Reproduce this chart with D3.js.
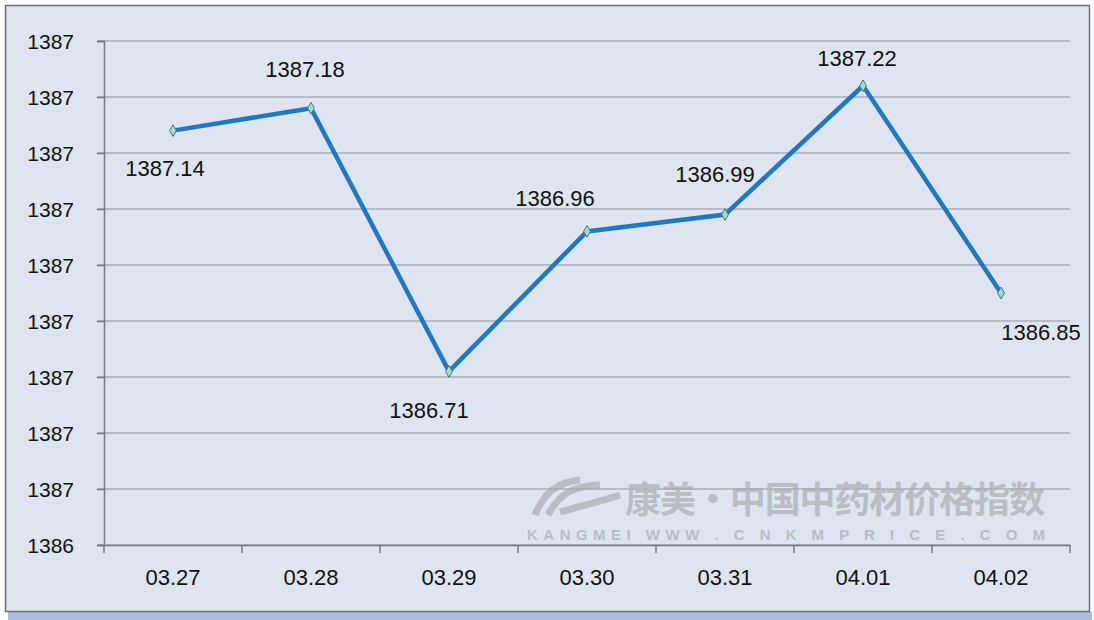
<!DOCTYPE html>
<html><head><meta charset="utf-8">
<script src="https://cdn.jsdelivr.net/npm/d3@7"></script>
<style>body{margin:0;background:#fff;}svg{display:block;font-family:"Liberation Sans",Arial,sans-serif;}</style>
</head><body>
<svg id="c" width="1094" height="620"></svg>
<script>
const categories = ["03.27","03.28","03.29","03.30","03.31","04.01","04.02"];
const values = [1387.14,1387.18,1386.71,1386.96,1386.99,1387.22,1386.85];
const yTicks = [1386.4,1386.5,1386.6,1386.7,1386.8,1386.9,1387.0,1387.1,1387.2,1387.3];
const labelOffsets = [[-8,38],[-6,-39],[-20,39],[-32,-33],[-10,-40],[-6,-28],[40,39]];

const svg = d3.select("#c");
svg.append("rect").attr("x",8).attr("y",612).attr("width",1084).attr("height",8).attr("fill","#a9bfdc");
svg.append("rect").attr("x",5.5).attr("y",5.5).attr("width",1084).attr("height",606).attr("fill","#dee5f1").attr("stroke","#6b6f78").attr("stroke-width",1.5);

const x = d3.scaleBand().domain(categories).range([104,1070]);
const y = d3.scaleLinear().domain([1386.4,1387.3]).range([545,41]);

// watermark
const wm = svg.append("g").attr("fill","#b4b7bd").attr("opacity",0.85);
wm.append("text").attr("x",625).attr("y",513).attr("font-size",36).attr("font-weight","bold").attr("font-family","Noto Sans CJK SC").attr("textLength",420).text("康美·中国中药材价格指数");
wm.append("text").attr("x",527).attr("y",540).attr("font-size",15).attr("font-weight","bold").attr("textLength",518).text("KANGMEI WWW . C N K M P R I C E . C O M");
wm.append("path").attr("d","M535,515 C545,490 560,482 580,480 M548,515 C560,492 575,486 600,485 M560,512 C585,505 605,500 620,495").attr("stroke","#b4b7bd").attr("stroke-width",7).attr("fill","none");

// gridlines
svg.append("g").selectAll("line").data(yTicks).join("line")
  .attr("x1",97).attr("x2",1070).attr("y1",d=>y(d)).attr("y2",d=>y(d))
  .attr("stroke","#a7adb9").attr("stroke-width",1.5);

// y axis
const yAxis = d3.axisLeft(y).tickValues(yTicks).tickSize(7).tickFormat(d=>d3.format(".0f")(Math.round(d)));
const gy = svg.append("g").attr("transform","translate(104,0)").call(yAxis);
gy.select(".domain").attr("stroke","#737985").attr("stroke-width",1.5);
gy.selectAll(".tick line").attr("stroke","#737985").attr("stroke-width",1.5);
gy.selectAll(".tick text").attr("font-size",21).attr("fill","#111").attr("x",-30).attr("dy","0.35em").attr("font-family","Liberation Sans, Arial, sans-serif");

// x axis
const xAxis = d3.axisBottom(x).tickSize(0).tickPadding(24);
const gx = svg.append("g").attr("transform","translate(0,545)").call(xAxis);
gx.select(".domain").attr("stroke","#737985").attr("stroke-width",1.5);
gx.selectAll(".tick text").attr("font-size",22).attr("fill","#111").attr("font-family","Liberation Sans, Arial, sans-serif");
const bounds = categories.map(c=>x(c)).concat([x.range()[1]]);
svg.append("g").selectAll("line").data(bounds).join("line")
  .attr("x1",d=>d).attr("x2",d=>d).attr("y1",545).attr("y2",553)
  .attr("stroke","#737985").attr("stroke-width",1.5);

// line
const cx = (d,i)=>x(categories[i])+x.bandwidth()/2;
const line = d3.line().x((d,i)=>cx(d,i)).y(d=>y(d));
svg.append("path").datum(values).attr("d",line).attr("fill","none")
  .attr("stroke","#1f78c4").attr("stroke-width",4.5).attr("stroke-linejoin","miter");

// markers
const sym = d3.symbol().type(d3.symbolDiamond).size(40);
svg.append("g").selectAll("path").data(values).join("path")
  .attr("d",sym).attr("transform",(d,i)=>`translate(${cx(d,i)},${y(d)})`)
  .attr("fill","#a8dcc4").attr("stroke","#3d7a7a").attr("stroke-width",1);

// labels
svg.append("g").selectAll("text").data(values).join("text")
  .attr("x",(d,i)=>cx(d,i)+labelOffsets[i][0]).attr("y",(d,i)=>y(d)+labelOffsets[i][1])
  .attr("text-anchor","middle").attr("dy","0.35em").attr("font-size",22).attr("fill","#111")
  .text(d=>d3.format(".2f")(d));
</script>
</body></html>
